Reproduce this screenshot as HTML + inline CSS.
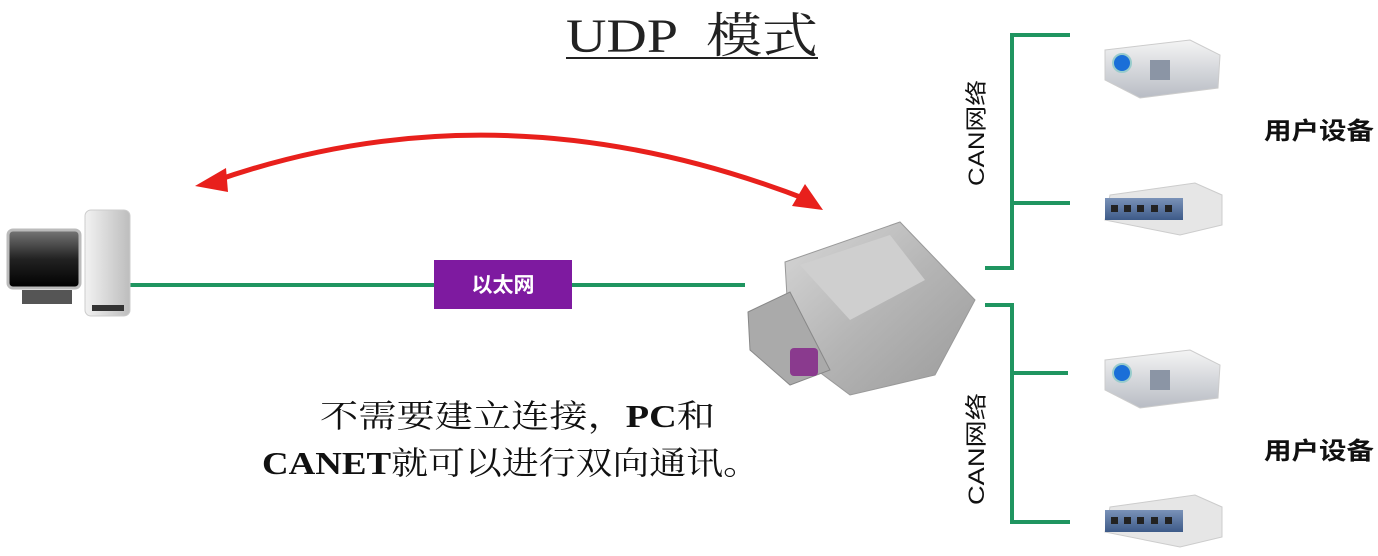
<!DOCTYPE html>
<html><head><meta charset="utf-8"><style>
body{margin:0;background:#fff;width:1378px;height:551px;overflow:hidden}
</style></head><body>
<svg width="1378" height="551" xmlns="http://www.w3.org/2000/svg">
<defs>
<linearGradient id="met" x1="0" y1="0" x2="1" y2="1"><stop offset="0" stop-color="#d8d8d8"/><stop offset="0.5" stop-color="#b5b5b5"/><stop offset="1" stop-color="#9a9a9a"/></linearGradient>
<linearGradient id="scr" x1="0" y1="0" x2="0" y2="1"><stop offset="0" stop-color="#777"/><stop offset="0.5" stop-color="#222"/><stop offset="1" stop-color="#000"/></linearGradient>
<linearGradient id="tow" x1="0" y1="0" x2="1" y2="0"><stop offset="0" stop-color="#f2f2f2"/><stop offset="1" stop-color="#bdbdbd"/></linearGradient>
<linearGradient id="proj" x1="0" y1="0" x2="0" y2="1"><stop offset="0" stop-color="#f4f4f4"/><stop offset="1" stop-color="#b8bcc4"/></linearGradient>
<linearGradient id="hub" x1="0" y1="0" x2="0" y2="1"><stop offset="0" stop-color="#7a92b8"/><stop offset="1" stop-color="#3d5a88"/></linearGradient>
</defs>
<text x="566" y="52" textLength="252" lengthAdjust="spacingAndGlyphs" font-family="Liberation Serif, 'Noto Serif CJK SC', serif" font-size="48" fill="#222">UDP&#160;&#160;模式</text>
<line x1="566" y1="58" x2="818" y2="58" stroke="#222" stroke-width="2"/>
<path d="M212,182 Q500,80 808,200" fill="none" stroke="#e8201c" stroke-width="5"/>
<polygon points="195,186 226,168 228,192" fill="#e8201c"/>
<polygon points="823,210 792,206 805,184" fill="#e8201c"/>
<line x1="130" y1="285" x2="745" y2="285" stroke="#1f9560" stroke-width="4"/>
<rect x="434" y="260" width="138" height="49" fill="#7e1aa0"/>
<text x="503" y="292" text-anchor="middle" font-family="'Liberation Sans','Noto Sans CJK SC',sans-serif" font-weight="bold" font-size="21" fill="#fff">以太网</text>
<rect x="8" y="230" width="72" height="58" rx="5" fill="url(#scr)" stroke="#bbb" stroke-width="3"/>
<rect x="22" y="290" width="50" height="14" fill="#555"/>
<rect x="85" y="210" width="45" height="106" rx="6" fill="url(#tow)" stroke="#ccc"/>
<rect x="92" y="305" width="32" height="6" fill="#333"/>
<polygon points="785,262 900,222 975,300 935,375 850,395 790,350" fill="url(#met)" stroke="#999"/>
<polygon points="800,265 890,235 925,280 850,320" fill="#cfcfcf"/>
<polygon points="748,312 790,292 830,370 790,385 750,350" fill="#aaa" stroke="#888"/>
<rect x="790" y="348" width="28" height="28" rx="4" fill="#8a3a8e"/>
<g stroke="#1f9560" stroke-width="4" fill="none">
<polyline points="1070,35 1012,35 1012,268 985,268"/>
<line x1="1012" y1="203" x2="1070" y2="203"/>
<polyline points="985,305 1012,305 1012,522 1070,522"/>
<line x1="1012" y1="373" x2="1068" y2="373"/>
</g>
<g font-family="'Liberation Sans','Noto Sans CJK SC',sans-serif" font-size="22" fill="#111">
<text transform="translate(984,186) rotate(-90)" textLength="106" lengthAdjust="spacingAndGlyphs">CAN网络</text>
<text transform="translate(984,505) rotate(-90)" textLength="112" lengthAdjust="spacingAndGlyphs">CAN网络</text>
<text x="1264" y="139" font-size="24" font-weight="bold" textLength="110" lengthAdjust="spacingAndGlyphs">用户设备</text>
<text x="1264" y="459" font-size="24" font-weight="bold" textLength="110" lengthAdjust="spacingAndGlyphs">用户设备</text>
</g>
<g id="pj">
<polygon points="1105,50 1190,40 1220,55 1218,88 1140,98 1105,80" fill="url(#proj)" stroke="#ccc"/>
<circle cx="1122" cy="63" r="9" fill="#1a6fd8" stroke="#9cc" stroke-width="2"/>
<rect x="1150" y="60" width="20" height="20" fill="#8b95a5"/>
</g>
<use href="#pj" transform="translate(0,310)"/>
<g id="hb">
<polygon points="1110,195 1195,183 1222,195 1222,225 1180,235 1105,220" fill="#e6e6e6" stroke="#ccc"/>
<rect x="1105" y="198" width="78" height="22" fill="url(#hub)"/>
<g fill="#222"><rect x="1111" y="205" width="7" height="7"/><rect x="1124" y="205" width="7" height="7"/><rect x="1137" y="205" width="7" height="7"/><rect x="1151" y="205" width="7" height="7"/><rect x="1165" y="205" width="7" height="7"/></g>
</g>
<use href="#hb" transform="translate(0,312)"/>
<g font-family="'Liberation Serif','Noto Serif CJK SC',serif" font-size="32" fill="#111">
<text x="320" y="427" textLength="395" lengthAdjust="spacingAndGlyphs">不需要建立连接，<tspan font-weight="bold">PC</tspan>和</text>
<text x="262" y="474" textLength="498" lengthAdjust="spacingAndGlyphs"><tspan font-weight="bold">CANET</tspan>就可以进行双向通讯。</text>
</g>
</svg>
</body></html>
